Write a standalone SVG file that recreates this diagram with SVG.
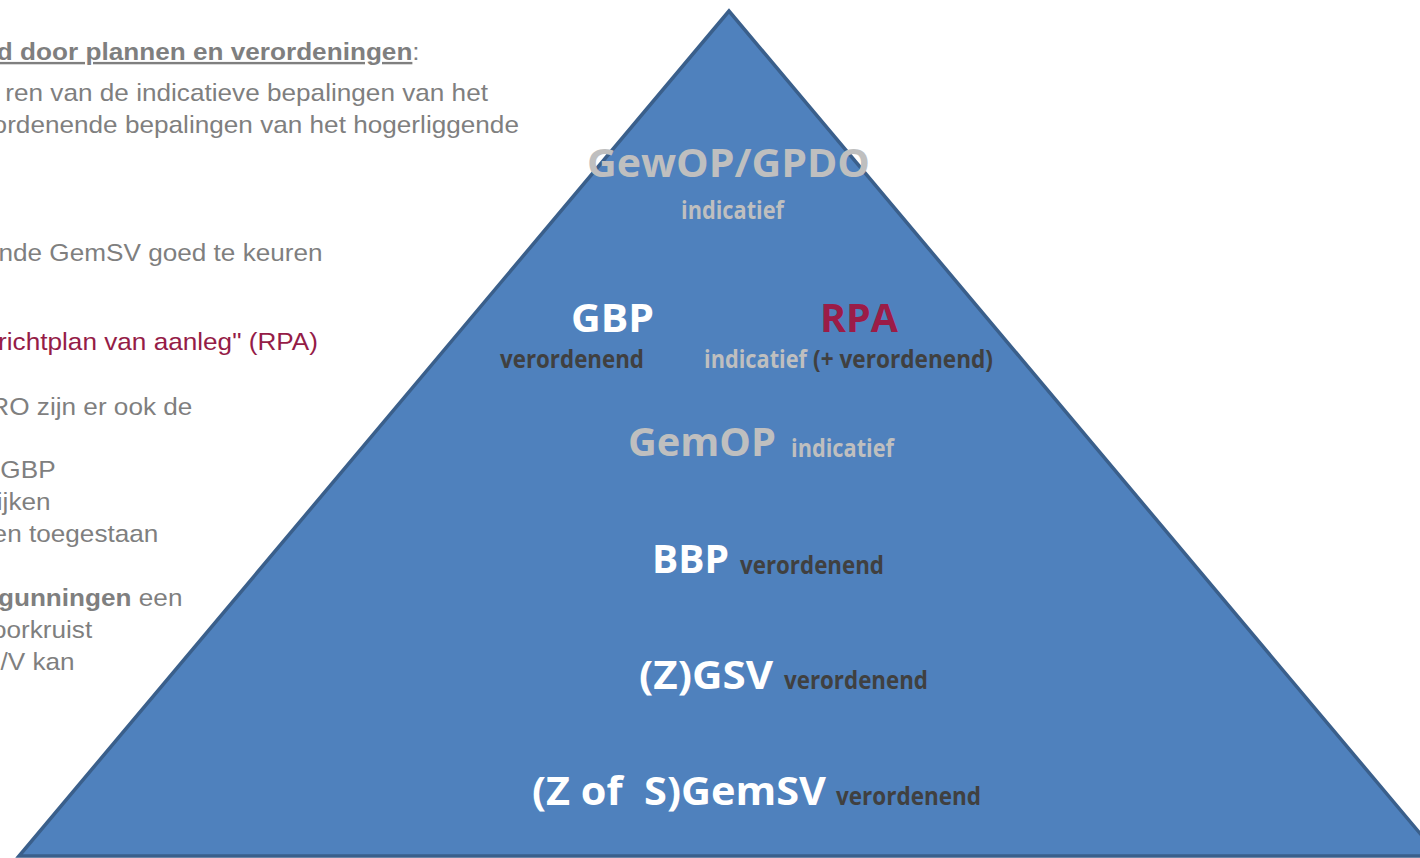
<svg xmlns="http://www.w3.org/2000/svg" width="1420" height="858" viewBox="0 0 1420 858">
  <style>
    .body { font-family: "Liberation Sans", Arial, sans-serif; font-size: 24px; fill: #7f7f7f; }
    .red { fill: #951c47; }
    .big { font-family: "Open Sans", Lato, sans-serif; font-weight: 700; font-size: 40px; }
    .small { font-family: "Open Sans", Lato, sans-serif; font-weight: 700; font-size: 24.5px; }
    .white { fill: #ffffff; }
    .grey { fill: #bfbfbf; }
    .dark { fill: #404040; }
    .rpa { fill: #9b1c47; }
  </style>
  <rect width="1420" height="858" fill="#ffffff"/>

  <!-- explanatory text column (runs off the left edge) -->
  <g id="notes" class="body" text-anchor="end" transform="scale(1.09,1)">
    <text x="385" y="60"><tspan font-weight="700" text-decoration="underline">d door plannen en verordeningen</tspan>:</text>
    <text x="447.7" y="101">ren van de indicatieve bepalingen van het</text>
    <text x="476.1" y="133">ordenende bepalingen van het hogerliggende</text>
    <text x="296" y="261">nde GemSV goed te keuren</text>
    <text class="red" x="291.7" y="350">richtplan van aanleg" (RPA)</text>
    <text x="176.5" y="415">RO zijn er ook de</text>
    <text x="51" y="478">GBP</text>
    <text x="46.4" y="510">ijken</text>
    <text x="145.3" y="542">en toegestaan</text>
    <text x="167.4" y="606"><tspan font-weight="700">gunningen</tspan> een</text>
    <text x="84.6" y="638">oorkruist</text>
    <text x="68.4" y="670">/V kan</text>
  </g>

  <!-- pyramid -->
  <g id="pyramid">
    <polygon points="729,11 19,856 1439,856" fill="#4f81bd" stroke="#3a5f8b" stroke-width="3.5" stroke-linejoin="miter"/>
  </g>

  <g id="gewop">
    <text class="big grey" x="587" y="177" textLength="283" lengthAdjust="spacingAndGlyphs">GewOP/GPDO</text>
    <text class="small grey" x="681" y="219" textLength="103" lengthAdjust="spacingAndGlyphs">indicatief</text>
  </g>

  <g id="gbp">
    <text class="big white" x="571" y="332" textLength="83" lengthAdjust="spacingAndGlyphs">GBP</text>
    <text class="small dark" x="500" y="368" textLength="144" lengthAdjust="spacingAndGlyphs">verordenend</text>
  </g>

  <g id="rpa">
    <text class="big rpa" x="820" y="332" textLength="78" lengthAdjust="spacingAndGlyphs">RPA</text>
    <text class="small grey" x="704" y="368" textLength="103" lengthAdjust="spacingAndGlyphs">indicatief</text>
    <text class="small dark" x="813" y="368" textLength="180" lengthAdjust="spacingAndGlyphs">(+ verordenend)</text>
  </g>

  <g id="gemop">
    <text class="big grey" x="628" y="456" textLength="148" lengthAdjust="spacingAndGlyphs">GemOP</text>
    <text class="small grey" x="791" y="457" textLength="103" lengthAdjust="spacingAndGlyphs">indicatief</text>
  </g>

  <g id="bbp">
    <text class="big white" x="652" y="573" textLength="77" lengthAdjust="spacingAndGlyphs">BBP</text>
    <text class="small dark" x="740" y="574" textLength="144" lengthAdjust="spacingAndGlyphs">verordenend</text>
  </g>

  <g id="zgsv">
    <text class="big white" x="639" y="689" textLength="134" lengthAdjust="spacingAndGlyphs">(Z)GSV</text>
    <text class="small dark" x="784" y="689" textLength="144" lengthAdjust="spacingAndGlyphs">verordenend</text>
  </g>

  <g id="gemsv">
    <text class="big white" x="532" y="805" textLength="294" lengthAdjust="spacingAndGlyphs" xml:space="preserve">(Z of  S)GemSV</text>
    <text class="small dark" x="836" y="805" textLength="145" lengthAdjust="spacingAndGlyphs">verordenend</text>
  </g>

  <g id="connectors"/>
</svg>
